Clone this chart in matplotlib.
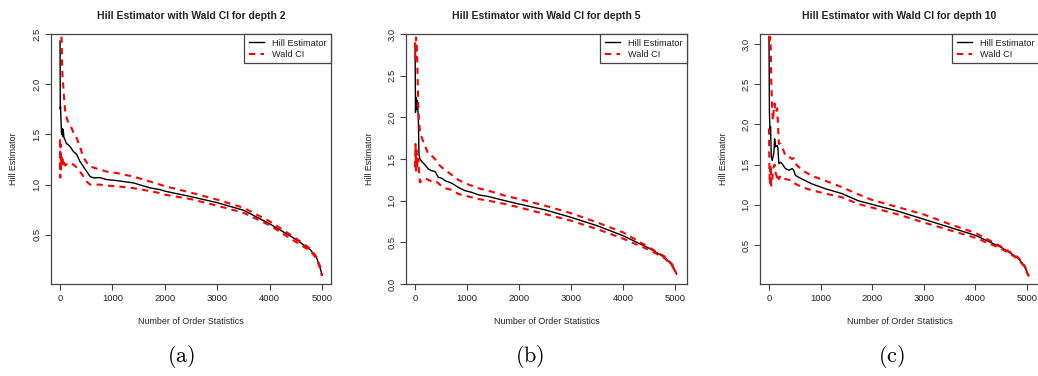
import matplotlib
matplotlib.use("Agg")
import matplotlib.pyplot as plt

plt.rcParams['font.family'] = ['Liberation Sans', 'DejaVu Sans']
plt.rcParams['mathtext.fontset'] = 'cm'

# ---------------- data ----------------
depths = [2, 5, 10]
captions = ["(a)", "(b)", "(c)"]

k_a = [1, 5, 10, 20, 30, 40, 50, 60, 75, 100, 120, 150, 190, 255, 320, 380, 445, 510, 575, 640,
       760, 890, 1080, 1400, 1720, 1910, 2000, 2500, 3000, 3500, 4000, 4500, 4780, 4900, 4960, 5000]
hill_a = [2.43, 1.75, 1.78, 1.62, 1.50, 1.56, 1.48, 1.55, 1.47, 1.44, 1.41, 1.40, 1.38, 1.33, 1.30, 1.23,
          1.18, 1.13, 1.08, 1.067, 1.07, 1.05, 1.04, 1.017, 0.967, 0.95, 0.935, 0.88, 0.82, 0.745,
          0.61, 0.455, 0.35, 0.267, 0.18, 0.10]
upper_a = [2.60, 2.60, 2.50, 2.55, 2.45, 2.20, 2.05, 2.00, 1.88, 1.72, 1.68, 1.63, 1.60, 1.52, 1.46, 1.38,
           1.27, 1.22, 1.18, 1.17, 1.15, 1.13, 1.115, 1.08, 1.03, 1.00, 0.985, 0.92, 0.85, 0.77,
           0.635, 0.465, 0.36, 0.275, 0.19, 0.11]
lower_a = [1.45, 1.07, 1.40, 1.15, 1.30, 1.20, 1.25, 1.18, 1.22, 1.19, 1.20, 1.21, 1.22, 1.20, 1.17, 1.13,
           1.083, 1.03, 1.00, 1.00, 1.00, 0.99, 0.983, 0.965, 0.935, 0.915, 0.90, 0.855, 0.79, 0.72,
           0.595, 0.43, 0.34, 0.26, 0.17, 0.09]

k_b = [1, 10, 20, 32, 45, 64, 77, 96, 128, 192, 256, 320, 385, 449, 513, 577, 705, 833, 962, 1090,
       1218, 1410, 1730, 2000, 2500, 3000, 3500, 4000, 4500, 4800, 4955, 5030]
hill_b = [2.88, 2.06, 2.24, 2.10, 2.20, 2.00, 1.55, 1.50, 1.47, 1.43, 1.38, 1.36, 1.35, 1.28, 1.27, 1.24,
          1.21, 1.16, 1.12, 1.10, 1.07, 1.05, 1.00, 0.96, 0.89, 0.80, 0.70, 0.58, 0.43, 0.32, 0.22, 0.12]
upper_b = [2.90, 2.70, 2.96, 2.90, 2.64, 2.12, 1.95, 1.84, 1.76, 1.66, 1.56, 1.54, 1.50, 1.44, 1.40, 1.37,
           1.31, 1.25, 1.21, 1.18, 1.15, 1.12, 1.06, 1.02, 0.94, 0.85, 0.74, 0.62, 0.44, 0.33, 0.23, 0.12]
lower_b = [1.40, 1.68, 1.36, 1.60, 1.40, 1.50, 1.35, 1.22, 1.24, 1.27, 1.25, 1.23, 1.24, 1.21, 1.17, 1.15,
           1.13, 1.08, 1.06, 1.04, 1.02, 1.00, 0.96, 0.92, 0.84, 0.76, 0.66, 0.545, 0.41, 0.31, 0.21, 0.11]

k_c = [1, 10, 20, 32, 45, 64, 77, 96, 110, 128, 160, 175, 192, 224, 256, 320, 385, 449, 480, 513, 641,
       833, 1090, 1410, 1730, 2000, 2500, 3000, 3500, 4000, 4500, 4820, 4936, 5032]
hill_c = [3.05, 2.14, 1.95, 1.97, 1.60, 1.55, 1.59, 1.65, 1.82, 1.72, 1.74, 1.70, 1.51, 1.53, 1.51, 1.45,
          1.43, 1.45, 1.43, 1.365, 1.32, 1.26, 1.20, 1.14, 1.05, 1.005, 0.92, 0.82, 0.72, 0.62, 0.47,
          0.34, 0.25, 0.12]
upper_c = [3.10, 3.00, 3.09, 3.05, 2.55, 2.17, 2.05, 2.20, 2.26, 2.15, 2.20, 2.00, 1.76, 1.76, 1.72, 1.61,
           1.60, 1.57, 1.58, 1.51, 1.43, 1.36, 1.30, 1.22, 1.13, 1.06, 0.97, 0.88, 0.76, 0.65, 0.48,
           0.35, 0.26, 0.13]
lower_c = [1.95, 1.40, 1.25, 1.50, 1.24, 1.30, 1.45, 1.47, 1.50, 1.40, 1.34, 1.38, 1.32, 1.36, 1.33, 1.32,
           1.31, 1.30, 1.29, 1.26, 1.22, 1.18, 1.14, 1.095, 1.01, 0.965, 0.88, 0.78, 0.685, 0.59, 0.455,
           0.33, 0.24, 0.11]

x_ticks = [0, 1000, 2000, 3000, 4000, 5000]
y_ticks_a = [0.5, 1.0, 1.5, 2.0, 2.5]
y_ticks_b = [0.0, 0.5, 1.0, 1.5, 2.0, 2.5, 3.0]
y_ticks_c = [0.5, 1.0, 1.5, 2.0, 2.5, 3.0]

panels = [
    (k_a, hill_a, upper_a, lower_a, y_ticks_a),
    (k_b, hill_b, upper_b, lower_b, y_ticks_b),
    (k_c, hill_c, upper_c, lower_c, y_ticks_c),
]

# ---------------- layout ----------------
W, H = 1038, 376
fig = plt.figure(figsize=(W / 100, H / 100), dpi=100)

axes_px = [(51, 331), (406, 687), (760, 1039)]
top_px, bot_px = 34, 284
xlims = [(-172, 5172), (-173, 5231), (-173, 5230)]
ylims = [(0.01, 2.5), (0.0, 3.0), (0.015, 3.124)]
cap_x = [181, 530, 891]

frame_col = '#444444'
text_col = '#222222'

for i, (k, hill, up, lo, yt) in enumerate(panels):
    l, r = axes_px[i]
    ax = fig.add_axes([l / W, (H - bot_px) / H, (r - l) / W, (bot_px - top_px) / H])
    ax.plot(k, hill, color='black', lw=1.0, label='Hill Estimator')
    ax.plot(k, up, color='red', lw=1.5, dashes=(3, 2.5), label='Wald CI')
    ax.plot(k, lo, color='red', lw=1.5, dashes=(3, 2.5))
    ax.set_xlim(*xlims[i])
    ax.set_ylim(*ylims[i])
    ax.set_xticks(x_ticks)
    ax.set_yticks(yt)
    ax.set_yticklabels([f"{v:.1f}" for v in yt], rotation=90, va='center')
    ax.tick_params(direction='out', length=4, width=0.8, color=frame_col,
                   labelsize=6.8, labelcolor=text_col, pad=3)
    for s in ax.spines.values():
        s.set_color(frame_col)
        s.set_linewidth(0.9)
    ax.set_title(f"Hill Estimator with Wald CI for depth {depths[i]}",
                 fontsize=7.5, fontweight='bold', color=text_col, pad=11)
    ax.set_xlabel("Number of Order Statistics", fontsize=6.4, color=text_col)
    ax.set_ylabel("Hill Estimator", fontsize=6.4, color=text_col)
    ax.xaxis.set_label_coords(0.5, (bot_px - 321) / (bot_px - top_px))
    ax.xaxis.label.set_va('center')
    ylab_x = [14, 369, 724][i]
    ax.yaxis.set_label_coords((ylab_x - l) / (r - l), 0.5)
    ax.yaxis.label.set_va('center')
    leg = ax.legend(loc='upper right', borderaxespad=0, fancybox=False, framealpha=1,
                    edgecolor=frame_col, fontsize=6.6, handlelength=1.7, handletextpad=0.8,
                    labelspacing=0.25, borderpad=0.5)
    leg.get_frame().set_linewidth(0.9)
    for t in leg.get_texts():
        t.set_color(text_col)
    fig.text(cap_x[i] / W, 1 - 357 / H, r"$\mathrm{" + captions[i] + "}$",
             fontsize=16, ha='center', va='center', color='black')

fig.savefig("out.png", dpi=100)
